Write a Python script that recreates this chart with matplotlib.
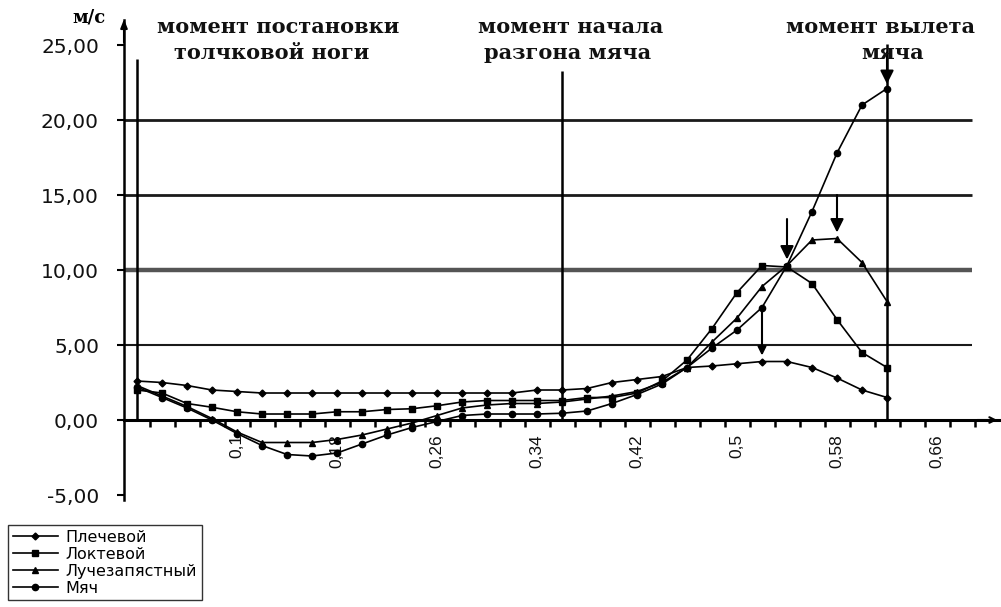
import matplotlib
matplotlib.use("Agg")
import matplotlib.pyplot as plt
import numpy as np

# Time of each frame, s
time_s = [0.02, 0.04, 0.06, 0.08, 0.10, 0.12, 0.14, 0.16, 0.18, 0.20,
          0.22, 0.24, 0.26, 0.28, 0.30, 0.32, 0.34, 0.36, 0.38, 0.40,
          0.42, 0.44, 0.46, 0.48, 0.50, 0.52, 0.54, 0.56, 0.58, 0.60, 0.62]

# Linear speed of the joints and of the ball, m/s
shoulder = [2.6, 2.5, 2.3, 2.0, 1.9, 1.8, 1.8, 1.8, 1.8, 1.8,
            1.8, 1.8, 1.8, 1.8, 1.8, 1.8, 2.0, 2.0, 2.1, 2.5,
            2.7, 2.9, 3.5, 3.6, 3.75, 3.9, 3.9, 3.5, 2.8, 2.0, 1.5]
elbow = [2.0, 1.8, 1.1, 0.85, 0.55, 0.4, 0.4, 0.4, 0.55, 0.55,
         0.7, 0.75, 0.95, 1.2, 1.3, 1.3, 1.3, 1.3, 1.5, 1.5,
         1.8, 2.6, 4.0, 6.1, 8.5, 10.3, 10.2, 9.1, 6.7, 4.5, 3.5]
wrist = [2.3, 1.6, 0.9, 0.1, -0.8, -1.5, -1.5, -1.5, -1.3, -1.0,
         -0.6, -0.2, 0.3, 0.8, 1.0, 1.1, 1.1, 1.2, 1.4, 1.6,
         1.9, 2.5, 3.5, 5.2, 6.8, 8.9, 10.3, 12.0, 12.1, 10.5, 7.9]
ball = [2.2, 1.5, 0.8, 0.0, -0.9, -1.7, -2.3, -2.4, -2.2, -1.6,
        -1.0, -0.5, -0.1, 0.3, 0.4, 0.4, 0.4, 0.45, 0.6, 1.1,
        1.7, 2.4, 3.5, 4.8, 6.0, 7.5, 10.3, 13.9, 17.8, 21.0, 22.1]

series_names = ["Плечевой", "Локтевой", "Лучезапястный", "Мяч"]

x_tick_values = [0.10, 0.18, 0.26, 0.34, 0.42, 0.50, 0.58, 0.66]
x_tick_labels = ["0,1", "0,18", "0,26", "0,34", "0,42", "0,5", "0,58", "0,66"]
y_tick_values = [-5, 0, 5, 10, 15, 20, 25]
y_tick_labels = ["-5,00", "0,00", "5,00", "10,00", "15,00", "20,00", "25,00"]
grid_levels = [5, 10, 15, 20]

# Key moments of the throw: (time, top of the marker line)
moment_times = [0.02, 0.36, 0.62]
moment_tops = [24.1, 23.3, 25.1]

W, H = 1001, 607
fig = plt.figure(figsize=(W / 100, H / 100), dpi=100)
fig.patch.set_facecolor("white")

ax_l, ax_r, ax_t, ax_b = 124, 1000, 20, 500
ax = fig.add_axes([ax_l / W, (H - ax_b) / H, (ax_r - ax_l) / W, (ax_b - ax_t) / H])
x0, x1 = 0.0096, 0.7104
ax.set_xlim(x0, x1)
ax.set_ylim(-5.333, 26.667)

for s in ["top", "right"]:
    ax.spines[s].set_visible(False)
ax.spines["left"].set_linewidth(1.8)
ax.spines["bottom"].set_position(("data", 0))
ax.spines["bottom"].set_linewidth(2.2)

# Y ticks
ax.set_yticks(y_tick_values)
ax.set_yticklabels(y_tick_labels, fontsize=14.5, family="DejaVu Sans", color="#111111")
ax.tick_params(axis="y", direction="out", length=5, width=1.5, pad=13)

# X ticks: labels at categories, marks between categories
ax.set_xticks(x_tick_values)
ax.set_xticklabels(x_tick_labels, rotation=90, fontsize=12.5,
                   family=["Liberation Sans Narrow", "Liberation Sans"], color="#111111")
ax.tick_params(axis="x", which="major", length=0, pad=10)
ax.set_xticks(np.arange(0.03, 0.695, 0.02), minor=True)
ax.tick_params(axis="x", which="minor", direction="out", length=5, width=1.8)

# Horizontal grid lines
grid_styles = {5: ("#1a1a1a", 1.5), 10: ("#555555", 3.2), 15: ("#1a1a1a", 2.0), 20: ("#1a1a1a", 2.0)}
for g in grid_levels:
    c, lw = grid_styles[g]
    ax.hlines(g, x0, 0.688, color=c, lw=lw, zorder=1)

# Moment lines
for t, top in zip(moment_times, moment_tops):
    ax.vlines(t, 0, top, color="black", lw=1.8, zorder=2)

# Series
styles = [("D", 3.5), ("s", 4.5), ("^", 5), ("o", 4.5)]
handles = []
for vals, name, (m, ms) in zip([shoulder, elbow, wrist, ball], series_names, styles):
    h, = ax.plot(time_s, vals, color="black", lw=1.2, marker=m, ms=ms,
                 mfc="black", mec="black", label=name, zorder=3)
    handles.append(h)

# Peak arrows
def peak_arrow(t, y_from, y_to, head):
    ax.annotate("", xy=(t, y_to), xytext=(t, y_from),
                arrowprops=dict(arrowstyle=f"-|>,head_width={head},head_length={head*2}",
                                color="black", lw=1.5, shrinkA=0, shrinkB=0), zorder=4)

peak_arrow(0.52, 7.2, 4.3, 0.25)
peak_arrow(0.54, 13.4, 10.7, 0.4)
peak_arrow(0.58, 15.0, 12.5, 0.4)
peak_arrow(0.62, 24.5, 22.4, 0.4)

# Axis arrowheads
ax.annotate("", xy=(x0, 26.9), xytext=(x0, 25.0),
            arrowprops=dict(arrowstyle="-|>,head_width=0.2,head_length=0.5", color="black", lw=1.5),
            annotation_clip=False)
ax.annotate("", xy=(x1, 0), xytext=(0.69, 0),
            arrowprops=dict(arrowstyle="->,head_width=0.2,head_length=0.4", color="black", lw=1.5),
            annotation_clip=False)

def ftext(x, y, s, **kw):
    fig.text(x / W, 1 - y / H, s, **kw)

title_font = dict(family="DejaVu Serif", weight="bold", fontsize=15, ha="center", va="center",
                  color="#111111")
ftext(89, 18, "м/с", family="DejaVu Serif", weight="bold", fontsize=13, ha="center", va="center")
ftext(278, 27, "момент постановки", **title_font)
ftext(272, 53, "толчковой ноги", **title_font)
ftext(571, 27, "момент начала", **title_font)
ftext(568, 53, "разгона мяча", **title_font)
ftext(880, 27, "момент вылета", **title_font)
ftext(893, 53, "мяча", **title_font)

leg = fig.legend(handles=handles, loc="upper left", bbox_to_anchor=(8 / W, 1 - 525 / H),
                 frameon=True, fancybox=False, edgecolor="black",
                 prop={"family": "DejaVu Sans", "size": 11.5},
                 handlelength=2.8, handletextpad=0.5, borderpad=0.3, labelspacing=0.12,
                 borderaxespad=0)
leg.get_frame().set_linewidth(1.0)

fig.savefig("out.png", dpi=100, facecolor="white")
